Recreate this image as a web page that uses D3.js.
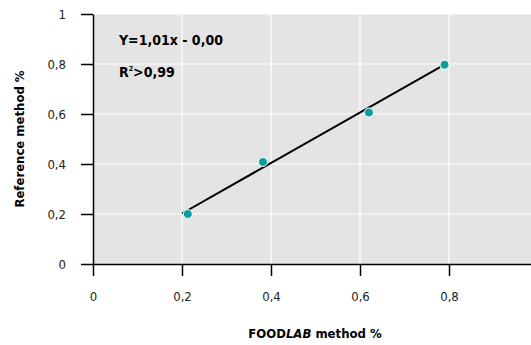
<!DOCTYPE html>
<html>
<head>
<meta charset="utf-8">
<script src="https://cdn.jsdelivr.net/npm/d3@7"></script>
<style>
  body { margin: 0; background: #fff; }
  text { font-family: "DejaVu Sans", sans-serif; font-stretch: condensed; }
</style>
</head>
<body>
<div id="chart"></div>
<script>
const foodlab = [0.213, 0.382, 0.620, 0.790];
const reference = [0.200, 0.408, 0.606, 0.797];
const fitRange = [0.2, 0.78];
const slope = 1.01;
const intercept = 0.0;
const tickValues = [0, 0.2, 0.4, 0.6, 0.8, 1];

const width = 531, height = 345;
const margins = { top: 14, left: 93 };
const plotW = 445, plotH = 250;

const svg = d3.select('#chart').append('svg')
    .attr('width', width)
    .attr('height', height);

const canvas = svg.append('g')
    .attr('transform', `translate(${margins.left}, ${margins.top})`);

const xScale = d3.scaleLinear().domain([0, 1]).range([0, plotW]);
const yScale = d3.scaleLinear().domain([0, 1]).range([plotH, 0]);

const fmt = d => d === 0 || d === 1 ? String(d) : d3.format('.1f')(d).replace('.', ',');

// background
canvas.append('rect')
    .attr('x', 0).attr('y', 0)
    .attr('width', plotW).attr('height', plotH)
    .attr('fill', '#e4e4e4');

// grid
canvas.selectAll('.vgrid')
    .data(tickValues.slice(1))
    .enter().append('line')
    .attr('x1', d => xScale(d)).attr('x2', d => xScale(d))
    .attr('y1', 0).attr('y2', plotH)
    .attr('stroke', '#fff').attr('stroke-width', 1.2);

canvas.selectAll('.hgrid')
    .data(tickValues.slice(1))
    .enter().append('line')
    .attr('y1', d => yScale(d)).attr('y2', d => yScale(d))
    .attr('x1', 0).attr('x2', plotW)
    .attr('stroke', '#fff').attr('stroke-width', 1.2);

// axes
const xAxis = canvas.append('g')
    .attr('class', 'x-axis')
    .attr('transform', `translate(0, ${plotH})`)
    .call(d3.axisBottom(xScale).tickValues(tickValues).tickFormat(fmt).tickSizeInner(12).tickSizeOuter(0).tickPadding(16));

const yAxis = canvas.append('g')
    .attr('class', 'y-axis')
    .call(d3.axisLeft(yScale).tickValues(tickValues).tickFormat(fmt).tickSizeInner(12).tickSizeOuter(0).tickPadding(15));

[xAxis, yAxis].forEach(ax => {
    ax.select('.domain').attr('stroke', '#000').attr('stroke-width', 1.5);
    ax.selectAll('.tick line').attr('stroke', '#000').attr('stroke-width', 1.5);
    ax.selectAll('.tick text').style('font-size', '13px').attr('fill', '#222');
});

// regression line
canvas.append('line')
    .attr('x1', xScale(fitRange[0])).attr('y1', yScale(slope * fitRange[0] + intercept))
    .attr('x2', xScale(fitRange[1])).attr('y2', yScale(slope * fitRange[1] + intercept))
    .attr('stroke', '#000').attr('stroke-width', 2);

// points
canvas.selectAll('circle')
    .data(foodlab.map((x, i) => ({ x, y: reference[i] })))
    .enter().append('circle')
    .attr('cx', dp => xScale(dp.x))
    .attr('cy', dp => yScale(dp.y))
    .attr('r', 4.5)
    .attr('fill', '#0a9e9e')
    .attr('stroke', '#fff')
    .attr('stroke-width', 1);

// equation
canvas.append('text')
    .attr('x', 26).attr('y', 31)
    .style('font-size', '14px').style('font-weight', 'bold')
    .text('Y=1,01x - 0,00');

const r2 = canvas.append('text')
    .attr('x', 26).attr('y', 63)
    .style('font-size', '14px').style('font-weight', 'bold');
r2.append('tspan').text('R');
r2.append('tspan').attr('dy', -6).style('font-size', '7px').text('2');
r2.append('tspan').attr('dy', 6).text('>0,99');

// axis labels
svg.append('text')
    .attr('transform', `translate(24, ${margins.top + plotH / 2}) rotate(-90)`)
    .attr('text-anchor', 'middle')
    .style('font-size', '13px').style('font-weight', 'bold')
    .text('Reference method %');

const xl = svg.append('text')
    .attr('x', 315).attr('y', 338)
    .attr('text-anchor', 'middle')
    .style('font-size', '13px').style('font-weight', 'bold');
xl.append('tspan').text('FOOD');
xl.append('tspan').style('font-style', 'italic').text('LAB');
xl.append('tspan').text(' method %');
</script>
</body>
</html>
